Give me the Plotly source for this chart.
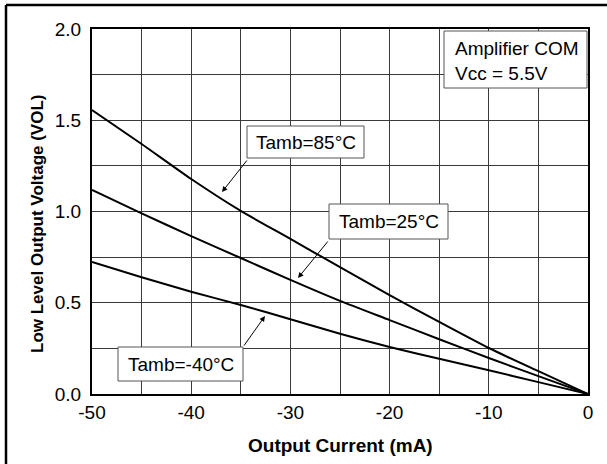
import plotly.graph_objects as go

# Data
current_mA = [-50, -45, -40, -35, -30, -25, -20, -15, -10, -5, 0]
vol_85C = [1.556, 1.37, 1.178, 1.003, 0.85, 0.695, 0.542, 0.395, 0.252, 0.125, 0.0]
vol_25C = [1.118, 0.99, 0.865, 0.745, 0.625, 0.51, 0.405, 0.30, 0.197, 0.098, 0.0]
vol_m40C = [0.723, 0.64, 0.56, 0.488, 0.41, 0.33, 0.258, 0.193, 0.13, 0.065, 0.0]
x_ticks = [-50, -40, -30, -20, -10, 0]
x_tick_labels = ["-50", "-40", "-30", "-20", "-10", "0"]
y_ticks = [0.0, 0.5, 1.0, 1.5, 2.0]
y_tick_labels = ["0.0", "0.5", "1.0", "1.5", "2.0"]

FONT = "Liberation Sans, Arial, sans-serif"

fig = go.Figure()
for ys in (vol_85C, vol_25C, vol_m40C):
    fig.add_trace(go.Scatter(x=current_mA, y=ys, mode="lines",
                             line=dict(color="black", width=2, shape="spline", smoothing=0.6),
                             showlegend=False, hoverinfo="skip"))

grid_col = "#3a3a3a"
fig.update_xaxes(range=[-50, 0], tickvals=x_ticks, ticktext=x_tick_labels,
                 showgrid=True, gridcolor=grid_col, gridwidth=1.2,
                 minor=dict(dtick=5, showgrid=True, gridcolor=grid_col, gridwidth=1.2),
                 showline=True, linecolor="black", linewidth=2, mirror=True,
                 ticks="", zeroline=False, ticklabelstandoff=0,
                 tickfont=dict(family=FONT, size=19, color="black"))
fig.update_yaxes(range=[0, 2], tickvals=y_ticks, ticktext=y_tick_labels,
                 showgrid=True, gridcolor=grid_col, gridwidth=1.2,
                 minor=dict(dtick=0.25, showgrid=True, gridcolor=grid_col, gridwidth=1.2),
                 showline=True, linecolor="black", linewidth=2, mirror=True,
                 ticks="", zeroline=False, ticklabelstandoff=5,
                 tickfont=dict(family=FONT, size=19, color="black"))

L, R, T, B = 92, 19, 29, 70
W, H = 607, 464
pw, ph = W - L - R, H - T - B

def px2x(px):
    return -50 + (px - L) / pw * 50

def py2y(py):
    return (H - B - py) / ph * 2

shapes = []
# outer frame (left & top visible)
shapes.append(dict(type="line", xref="paper", yref="paper",
                   x0=(6 - L) / pw, x1=(6 - L) / pw, y0=(H - B - 470) / ph, y1=(H - B - 5) / ph,
                   line=dict(color="black", width=2.5)))
shapes.append(dict(type="line", xref="paper", yref="paper",
                   x0=(6 - L) / pw, x1=(615 - L) / pw, y0=(H - B - 5) / ph, y1=(H - B - 5) / ph,
                   line=dict(color="black", width=2.5)))

boxes = [
    ("Tamb=85\u00b0C", 247, 364, 126, 158),
    ("Tamb=25\u00b0C", 329, 448, 204, 239),
    ("Tamb=-40\u00b0C", 118, 243, 347, 381),
]
annotations = []
for txt, x0, x1, y0, y1 in boxes:
    shapes.append(dict(type="rect", x0=px2x(x0), x1=px2x(x1), y0=py2y(y1), y1=py2y(y0),
                       line=dict(color="#555555", width=1), fillcolor="white", layer="above"))
    annotations.append(dict(x=px2x((x0 + x1) / 2), y=py2y((y0 + y1) / 2), text=txt,
                            showarrow=False, font=dict(family=FONT, size=19, color="black"),
                            xanchor="center", yanchor="middle"))

# Amplifier box
shapes.append(dict(type="rect", x0=px2x(444), x1=px2x(587), y0=py2y(88), y1=py2y(31),
                   line=dict(color="#555555", width=1), fillcolor="white", layer="above"))
annotations.append(dict(x=px2x(453), y=py2y(60.5), text="Amplifier COM<br>Vcc = 5.5V",
                        showarrow=False, align="left", xanchor="left", yanchor="middle",
                        font=dict(family=FONT, size=19, color="black")))

# arrows (tail -> head)
arrows = [((248, 159), (222, 192)), ((329, 240), (298, 278)), ((243, 347), (265, 316))]
for (tx, ty), (hx, hy) in arrows:
    annotations.append(dict(x=px2x(hx), y=py2y(hy), ax=px2x(tx), ay=py2y(ty),
                            xref="x", yref="y", axref="x", ayref="y", text="",
                            showarrow=True, arrowhead=2, arrowsize=1.1, arrowwidth=1,
                            arrowcolor="black"))

# axis titles
annotations.append(dict(xref="paper", yref="paper", x=(340 - L) / pw, y=(H - B - 445) / ph,
                        text="<b>Output Current (mA)</b>", showarrow=False,
                        xanchor="center", yanchor="middle",
                        font=dict(family=FONT, size=19, color="black")))
annotations.append(dict(xref="paper", yref="paper", x=(37 - L) / pw, y=(H - B - 224) / ph,
                        text="<b>Low Level Output Voltage (VOL)</b>", showarrow=False,
                        textangle=-90, xanchor="center", yanchor="middle",
                        font=dict(family=FONT, size=17, color="black")))

fig.update_layout(width=W, height=H, margin=dict(l=L, r=R, t=T, b=B),
                  paper_bgcolor="white", plot_bgcolor="white",
                  shapes=shapes, annotations=annotations, showlegend=False)

fig.write_html("out.html")
